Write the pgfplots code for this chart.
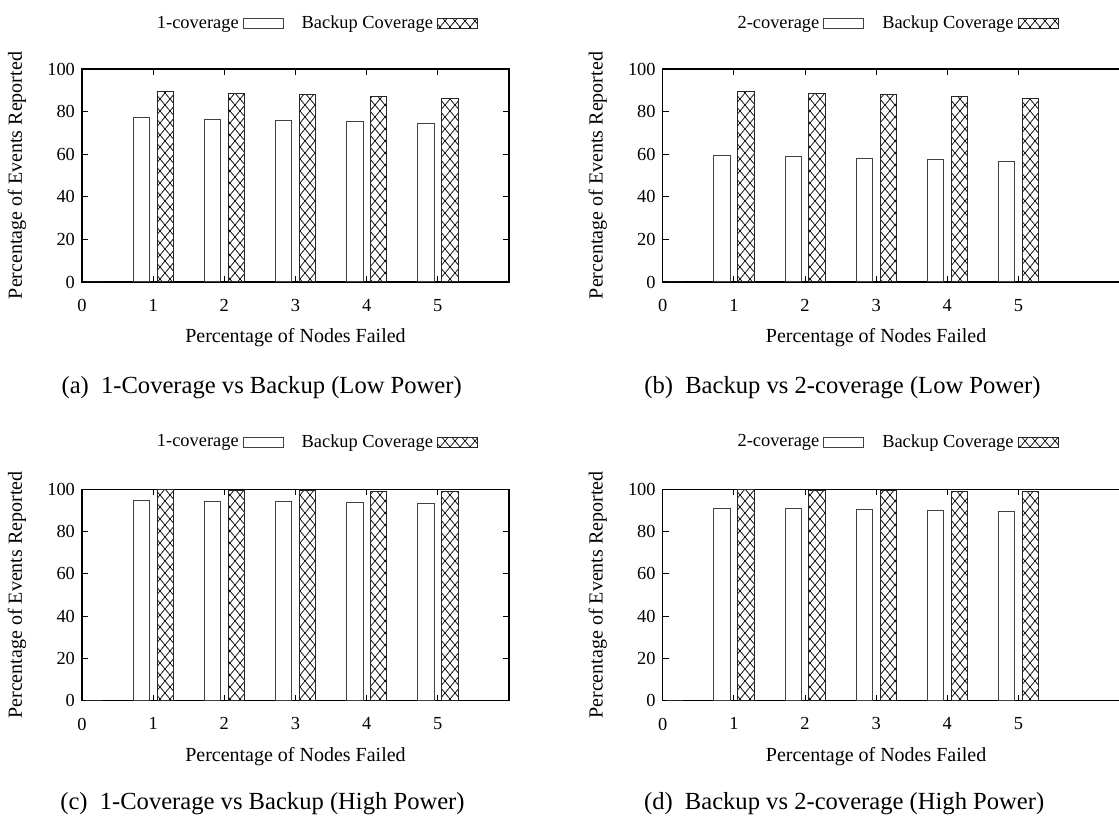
\documentclass[border=0pt]{standalone}
\usepackage{fontspec}
\setmainfont{Liberation Serif}
\usepackage{pgfplots}
\pgfplotsset{compat=1.18}
\usetikzlibrary{patterns}

\pgfdeclarepatternformonly{diagcross}{\pgfqpoint{-0.5pt}{-0.5pt}}{\pgfqpoint{5.5pt}{6.5pt}}{\pgfqpoint{5pt}{6pt}}{%
  \pgfsetlinewidth{0.35pt}%
  \pgfpathmoveto{\pgfqpoint{0pt}{0pt}}\pgfpathlineto{\pgfqpoint{5pt}{6pt}}%
  \pgfpathmoveto{\pgfqpoint{0pt}{6pt}}\pgfpathlineto{\pgfqpoint{5pt}{0pt}}%
  \pgfusepath{stroke}}

\newcommand{\nf}{\fontsize{9.2}{10}\selectfont}
\newcommand{\cf}{\fontsize{12.3}{14}\selectfont}

\pgfplotsset{
  panel/.style={
    scale only axis, height=106.5pt,
    xmin=0, ymin=0, ymax=100,
    xtick={0,...,5}, ytick={0,20,...,100},
    tick align=inside, major tick length=3pt,
    axis line style={line width=0.6pt},
    every tick/.append style={line width=0.5pt, black},
    tick label style={font=\nf},
    /pgf/number format/assume math mode=true,
    xticklabel style={yshift=-5pt},
    label style={font=\nf},
    xlabel={Percentage of Nodes Failed},
    ylabel={Percentage of Events Reported},
    every axis y label/.style={xshift=-32.5pt, at={(axis description cs:0,0.5)}, rotate=90, anchor=center},
    legend columns=2,
    legend plot pos=right,
    legend style={draw=none, fill=none, inner sep=0pt, font=\nf, anchor=east},
  },
  narrow/.style={panel, width=213.5pt, xmax=6,
    every axis x label/.style={at={(axis description cs:0.5,0)}, anchor=center, yshift=-28pt},
    legend style={at={(axis description cs:0.9283,1)}}},
  wide/.style={panel, width=234.8pt, xmax=6.6,
    every axis x label/.style={at={(axis description cs:0.4545,0)}, anchor=center, yshift=-28pt},
    legend style={at={(axis description cs:0.8439,1)}}},
  whitebar/.style={ybar, bar width=0.23, bar shift=-0.165, draw=black!75, line width=0.5pt, fill=white,
    legend image code/.code={\draw[draw=black!75, line width=0.5pt, fill=white] (0pt,-2.5pt) rectangle (20pt,2.5pt);}},
  hatchbar/.style={ybar, bar width=0.23, bar shift=0.17, draw=black!85, line width=0.5pt, pattern=diagcross, pattern color=black,
    legend image code/.code={\draw[draw=black!85, line width=0.5pt, pattern=diagcross, pattern color=black] (0pt,-2.5pt) rectangle (20pt,2.5pt);}},
}

\begin{document}
\begin{tikzpicture}
\useasboundingbox (0pt,0pt) rectangle (559.5pt,409.5pt);

% (a)
\begin{axis}[narrow, at={(41pt,268.5pt)}, anchor=south west, legend style={yshift=22.5pt}]
\addplot[whitebar] coordinates {(0,0) (1,77.2) (2,76.5) (3,76.0) (4,75.2) (5,74.6)};
\addlegendentry{1-coverage\hspace{6.5pt}}
\addplot[hatchbar] coordinates {(0,0) (1,89.3) (2,88.5) (3,87.8) (4,87.3) (5,86.3)};
\addlegendentry{\hspace{7pt}Backup Coverage\hspace{5pt}}
\end{axis}

% (b)
\begin{axis}[wide, at={(331.35pt,268.5pt)}, anchor=south west, legend style={yshift=22.5pt}]
\addplot[whitebar] coordinates {(0,0) (1,59.5) (2,58.9) (3,58.1) (4,57.3) (5,56.7)};
\addlegendentry{2-coverage\hspace{6.5pt}}
\addplot[hatchbar] coordinates {(0,0) (1,89.3) (2,88.5) (3,87.8) (4,87.3) (5,86.3)};
\addlegendentry{\hspace{7pt}Backup Coverage\hspace{5pt}}
\end{axis}

% (c)
\begin{axis}[narrow, at={(41pt,59.15pt)}, anchor=south west, height=105.7pt, legend style={yshift=23.5pt}]
\addplot[whitebar] coordinates {(0,0) (1,94.5) (2,94.3) (3,94.2) (4,93.8) (5,93.2)};
\addlegendentry{1-coverage\hspace{6.5pt}}
\addplot[hatchbar] coordinates {(0,0) (1,99.7) (2,99.5) (3,99.2) (4,99.1) (5,98.9)};
\addlegendentry{\hspace{7pt}Backup Coverage\hspace{5pt}}
\end{axis}

% (d)
\begin{axis}[wide, at={(331.35pt,59.15pt)}, anchor=south west, height=105.7pt, legend style={yshift=23.5pt}]
\addplot[whitebar] coordinates {(0,0) (1,90.9) (2,90.7) (3,90.5) (4,90.0) (5,89.4)};
\addlegendentry{2-coverage\hspace{6.5pt}}
\addplot[hatchbar] coordinates {(0,0) (1,99.7) (2,99.5) (3,99.2) (4,99.1) (5,98.9)};
\addlegendentry{\hspace{7pt}Backup Coverage\hspace{5pt}}
\end{axis}

\node[font=\cf] at (130.85pt,215.5pt) {(a)\hspace{3pt} 1-Coverage vs Backup (Low Power)};
\node[font=\cf] at (421.25pt,215.5pt) {(b)\hspace{3pt} Backup vs 2-coverage (Low Power)};
\node[font=\cf] at (131.25pt,7.5pt) {(c)\hspace{3pt} 1-Coverage vs Backup (High Power)};
\node[font=\cf] at (422.1pt,7.5pt) {(d)\hspace{3pt} Backup vs 2-coverage (High Power)};
\end{tikzpicture}
\end{document}
